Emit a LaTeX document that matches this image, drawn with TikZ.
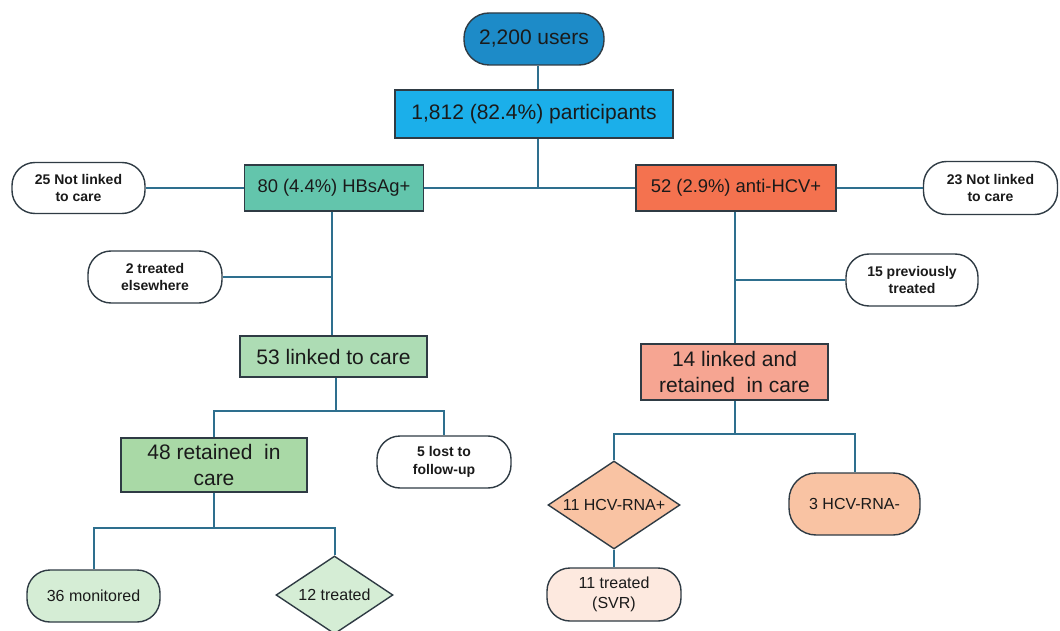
\documentclass[tikz,border=0pt]{standalone}
\usepackage{fontspec}
\setmainfont{Liberation Sans}
\usetikzlibrary{shapes.geometric}
\definecolor{bordercol}{HTML}{2F3B44}
\definecolor{linecol}{HTML}{2E6F8E}
\definecolor{usersfill}{HTML}{1D8BC8}
\definecolor{partfill}{HTML}{1BAFEA}
\definecolor{hbsfill}{HTML}{63C5AC}
\definecolor{hcvfill}{HTML}{F4724F}
\definecolor{linkfill}{HTML}{ADDCB4}
\definecolor{retfill}{HTML}{A9D9A6}
\definecolor{leafgreen}{HTML}{D5EDD5}
\definecolor{hcvlink}{HTML}{F6A592}
\definecolor{rnafill}{HTML}{F9C3A3}
\definecolor{svrfill}{HTML}{FDE9DF}
\definecolor{txt}{HTML}{1A1A1A}
\begin{document}
\begin{tikzpicture}[x=1pt,y=-1pt,
  box/.style={draw=bordercol, line width=1.4pt, inner sep=0pt, align=center, text=txt},
  rbox/.style={box, rectangle, minimum width=#1},
  pill/.style={box, rounded corners=23pt, minimum width=#1},
  dia/.style={box, diamond, aspect=1},
  big/.style={font=\fontsize{21}{25.5}\selectfont},
  mid/.style={font=\fontsize{18.4}{22}\selectfont},
  sml/.style={font=\bfseries\fontsize{14}{17.5}\selectfont},
  leaf/.style={font=\fontsize{16}{20}\selectfont},
  conn/.style={draw=linecol, line width=2pt},
]
\useasboundingbox (0,0) rectangle (1060,631);
\fill[white] (0,0) rectangle (1060,631);

% nodes
\node[pill=140pt, minimum height=52pt, fill=usersfill, big, rounded corners=25pt] (users) at (534,39) {2,200 users};
\node[rbox=278pt, minimum height=48pt, fill=partfill, big] (part) at (534,114) {1,812 (82.4\%) participants};

\node[rbox=179pt, minimum height=46pt, fill=hbsfill, mid] (hbs) at (334,188) {80 (4.4\%) HBsAg+};
\node[rbox=200pt, minimum height=46pt, fill=hcvfill, mid] (hcv) at (736,188) {52 (2.9\%) anti-HCV+};

\node[pill=133pt, minimum height=51pt, fill=white, sml] (nl25) at (78.5,188) {25 Not linked\\to care};
\node[pill=134pt, minimum height=53pt, fill=white, sml] (nl23) at (990.5,188) {23 Not linked\\to care};

\node[pill=134pt, minimum height=52pt, fill=white, sml] (te2) at (155,277) {2 treated\\elsewhere};
\node[pill=132pt, minimum height=52pt, fill=white, sml] (pt15) at (912,280) {15 previously\\treated};

\node[rbox=187pt, minimum height=41pt, fill=linkfill, big] (l53) at (333.5,356.5) {53 linked to care};
\node[rbox=186pt, minimum height=54pt, fill=retfill, big] (r48) at (214,465) {48 retained \ in\\care};
\node[pill=134pt, minimum height=52pt, fill=white, sml] (lost5) at (444,462) {5 lost to\\follow-up};

\node[pill=133pt, minimum height=52pt, fill=leafgreen, leaf] (mon36) at (93.5,596) {36 monitored};
\node[dia, minimum width=117pt, minimum height=78pt, fill=leafgreen, leaf] (tr12) at (334.5,595) {\makebox[0pt]{12 treated}};

\node[rbox=187pt, minimum height=56pt, fill=hcvlink, big] (l14) at (734.5,372) {14 linked and\\retained \ in care};
\node[dia, minimum width=132pt, minimum height=88pt, fill=rnafill, leaf] (rnap) at (614,505) {\makebox[0pt]{11 HCV-RNA+}};
\node[pill=131pt, minimum height=62pt, fill=rnafill, leaf, rounded corners=27pt] (rnan) at (854.5,504) {3 HCV-RNA-};
\node[pill=134pt, minimum height=53pt, fill=svrfill, leaf] (svr) at (614,594.5) {11 treated\\(SVR)};

% junction coordinates
\coordinate (jtop) at (538,188);
\coordinate (jhbs) at (332,277);
\coordinate (jhcv) at (735,280);
\coordinate (j53) at (335.5,410.5);
\coordinate (j48) at (214,528);
\coordinate (j14) at (734.5,434);

% connectors
\draw[conn] ([xshift=4pt]users.south) -- ([xshift=4pt]part.north);
\draw[conn] (jtop |- part.south) -- (jtop);
\draw[conn] (hbs.east) -- (hcv.west);
\draw[conn] (nl25.east) -- (hbs.west);
\draw[conn] (hcv.east) -- (nl23.west);

\draw[conn] (jhbs |- hbs.south) -- (jhbs |- l53.north);
\draw[conn] (te2.east) -- (jhbs);
\draw[conn] (jhcv |- hcv.south) -- (jhcv |- l14.north);
\draw[conn] (pt15.west) -- (jhcv);

\draw[conn] (j53 |- l53.south) -- (j53);
\draw[conn] (r48.north) |- (j53) -| (lost5.north);

\draw[conn] (r48.south) -- (j48);
\draw[conn] (mon36.north) |- (j48) -| (tr12.north);

\draw[conn] (l14.south) -- (j14);
\draw[conn] (rnap.north) |- (j14) -| (rnan.north);
\draw[conn] (rnap.south) -- (svr.north);
\end{tikzpicture}
\end{document}
